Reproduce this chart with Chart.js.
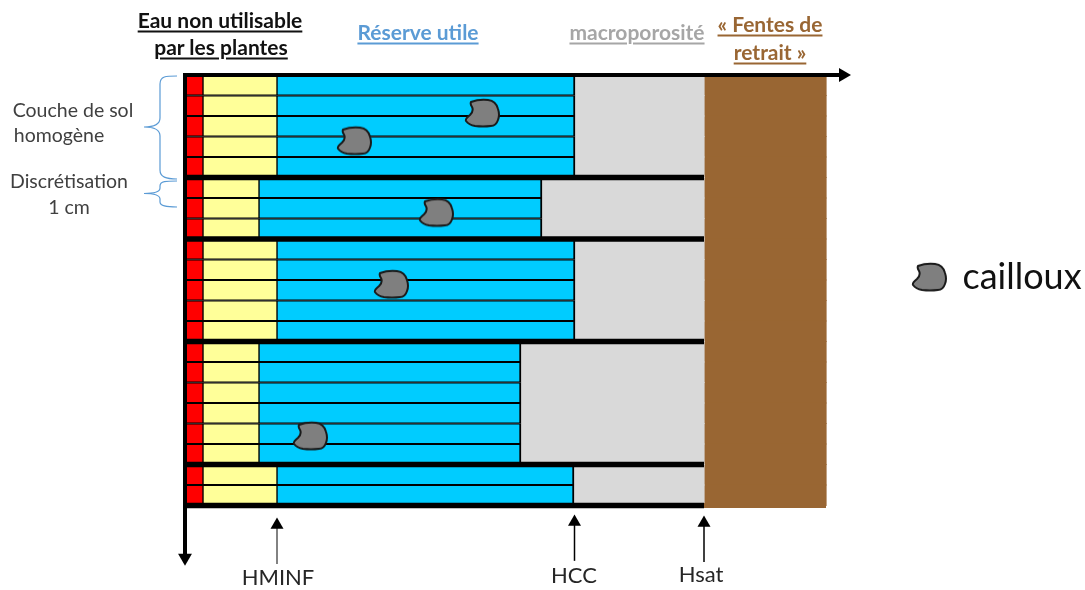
<!DOCTYPE html>
<html lang="fr">
<head>
<meta charset="UTF-8" />
<title>Discrétisation du sol</title>
<script src="https://cdn.jsdelivr.net/npm/chart.js"></script>
<style>
  html, body { margin: 0; background: #fff; }
  #wrap { position: relative; width: 1085px; height: 590px; overflow: hidden; font-family: Lato, "Open Sans", sans-serif; }
  canvas { position: absolute; left: 0; top: 0; }
  svg { position: absolute; left: 0; top: 0; }
  .t { position: absolute; white-space: nowrap; transform: translate(-50%, -50%); line-height: 1; }
  .h { font-weight: 700; font-size: 21px; text-decoration: underline; text-underline-offset: 3px; }
  .n { font-size: 19.5px; color: #404040; }
  .m { font-size: 22px; color: #262626; }
</style>
</head>
<body>
<div id="wrap">
  <canvas id="soil" width="1085" height="590"></canvas>
  <svg width="1085" height="590" fill="none" stroke="#5b9bd5" stroke-width="1.2">
    <path d="M177 76 C166 76 160 76 160 84 L160 118 C160 125 154 127 144 127 C154 127 160 130 160 136 L160 170 C160 177 166 179 177 179" />
    <path d="M177 181 C166 181 160 181 160 186 L160 188 C160 192 154 193.5 144 193.5 C154 193.5 160 195 160 199 L160 202 C160 206 166 207 177 207" />
  </svg>
  <div class="t h" style="left:220px;top:19px;color:#111">Eau non utilisable</div>
  <div class="t h" style="left:221px;top:46px;color:#111">par les plantes</div>
  <div class="t h" style="left:418px;top:31px;color:#5b9bd5">Réserve utile</div>
  <div class="t h" style="left:637px;top:31px;color:#a6a6a6">macroporosité</div>
  <div class="t h" style="left:770px;top:23px;color:#996633">« Fentes de</div>
  <div class="t h" style="left:770px;top:51px;color:#996633">retrait »</div>
  <div class="t n" style="left:73px;top:110px">Couche de sol</div>
  <div class="t n" style="left:59px;top:135px">homogène</div>
  <div class="t n" style="left:69px;top:181px">Discrétisation</div>
  <div class="t n" style="left:69px;top:207px">1 cm</div>
  <div class="t" style="left:1022px;top:275px;font-size:36px;color:#111">cailloux</div>
  <div class="t m" style="left:278px;top:577px">HMINF</div>
  <div class="t m" style="left:574px;top:575px">HCC</div>
  <div class="t m" style="left:701px;top:574px">Hsat</div>
</div>

<script>
  // one row = 1 cm of soil (arbitrary humidity units)
  // last four labels are empty rows, they only leave room for the arrows below the profile
  const depths = ["1","2","3","4","5","6","7","8","9","10","11","12","13","14","15","16","17","18","19","20","21","","","",""];
  const nonExtractible = [18,18,18,18,18,18,18,18,18,18,18,18,18,18,18,18,18,18,18,18,18];
  const belowHminf = [74,74,74,74,74,56,56,56,74,74,74,74,74,56,56,56,56,56,56,74,74];
  const reserveUtile = [298,298,298,298,298,283,283,283,298,298,298,298,298,262,262,262,262,262,262,297,297];
  const macroporosite = [129,129,129,129,129,162,162,162,129,129,129,129,129,183,183,183,183,183,183,130,130];
  const fentes = [122,122,122,122,122,122,122,122,122,122,122,122,122,122,122,122,122,122,122,122,122];

  const layerBounds = [0, 5, 8, 13, 19, 21];
  const hsat = 519;
  const stoneX = [297, 169, 251, 206, 125, 744];
  const stoneY = [1.85, 3.2, 6.7, 10.2, 17.6, 9.85];

  function stoneImage() {
    const c = document.createElement("canvas");
    c.width = 38; c.height = 32;
    const g = c.getContext("2d");
    g.translate(2, 2);
    g.beginPath();
    g.moveTo(6, 3);
    g.quadraticCurveTo(14, 0, 23, 1);
    g.quadraticCurveTo(31, 2, 33, 10);
    g.quadraticCurveTo(35, 16, 33, 21);
    g.quadraticCurveTo(31, 27, 26, 27);
    g.quadraticCurveTo(18, 28, 10, 27);
    g.quadraticCurveTo(4, 26, 1, 22);
    g.quadraticCurveTo(0, 20, 5, 16);
    g.quadraticCurveTo(9, 12, 7, 8);
    g.quadraticCurveTo(5, 5, 6, 3);
    g.closePath();
    g.fillStyle = "#7f7f7f";
    g.fill();
    g.strokeStyle = "#1a1a1a";
    g.lineWidth = 2;
    g.stroke();
    return c;
  }

  function seg(x0, y0, x1, y1, color, width, order, extra) {
    return Object.assign({
      type: "line", indexAxis: "x", xAxisID: "xm", yAxisID: "yd", order: order, clip: false,
      data: [{ x: x0, y: y0 }, { x: x1, y: y1 }],
      borderColor: color, borderWidth: width, pointRadius: 0, tension: 0,
      backgroundColor: color
    }, extra || {});
  }

  function arrowHead(rot, r) {
    return { pointStyle: "triangle", pointRadius: [0, r], pointRotation: rot, pointBackgroundColor: "#000", pointBorderWidth: 0 };
  }

  function barSet(data, color, bordered, rightBorder) {
    const set = {
      data: data, backgroundColor: color, order: 5,
      xAxisID: "x", yAxisID: "y", stack: "soil", grouped: false,
      borderColor: "#000", borderSkipped: false,
      borderWidth: bordered ? { top: 1.3, bottom: 1.3, left: 1, right: rightBorder } : 0,
      barPercentage: 1, categoryPercentage: 1
    };
    // rows sit on half pixels, overlap the plain bars a bit so no seams show
    if (!bordered) set.inflateAmount = 0.6;
    return set;
  }

  const datasets = [
    {
      type: "scatter", indexAxis: "x", xAxisID: "xm", yAxisID: "yd", order: 0, clip: false,
      data: stoneX.map((x, i) => ({ x: x, y: stoneY[i] })),
      pointStyle: stoneImage(), pointRadius: 17
    },
    // axes
    seg(0, 0, 658, 0, "#000", 4, 1, arrowHead(90, 8)),
    seg(0, -0.1, 0, 23.55, "#000", 4, 1, arrowHead(180, 8)),
    // bottom ticks
    seg(92, 23.85, 92, 21.95, "#595959", 1.5, 1, arrowHead(0, 7.5)),
    seg(389.5, 23.7, 389.5, 21.8, "#000", 1.5, 1, arrowHead(0, 7.5)),
    seg(519, 23.75, 519, 21.85, "#000", 1.5, 1, arrowHead(0, 7.5)),
    // brown foot under the last separator
    seg(519, 21, 641, 21, "#996633", 5, 2)
  ];
  layerBounds.slice(1).forEach(b => datasets.push(seg(0, b, hsat, b, "#000", 5.5, 2)));
  datasets.push(
    barSet(nonExtractible, "#ff0000", true, 1),
    barSet(belowHminf, "#ffff99", true, 1),
    barSet(reserveUtile, "#00ccff", true, 2),
    barSet(macroporosite, "#d9d9d9", false),
    barSet(fentes, "#996633", false)
  );

  new Chart(document.getElementById("soil"), {
    type: "bar",
    data: { labels: depths, datasets: datasets },
    options: {
      indexAxis: "y",
      responsive: false,
      animation: false,
      layout: { autoPadding: false, padding: { left: 185, right: 0, top: 75, bottom: 2.5 } },
      plugins: { legend: { display: false }, tooltip: { enabled: false } },
      scales: {
        x: { display: false, stacked: true, min: 0, max: 900 },
        y: { display: false, stacked: true },
        xm: { display: false, type: "linear", min: 0, max: 900 },
        yd: { display: false, type: "linear", min: 0, max: 25, reverse: true, offset: false }
      }
    }
  });
</script>
</body>
</html>
